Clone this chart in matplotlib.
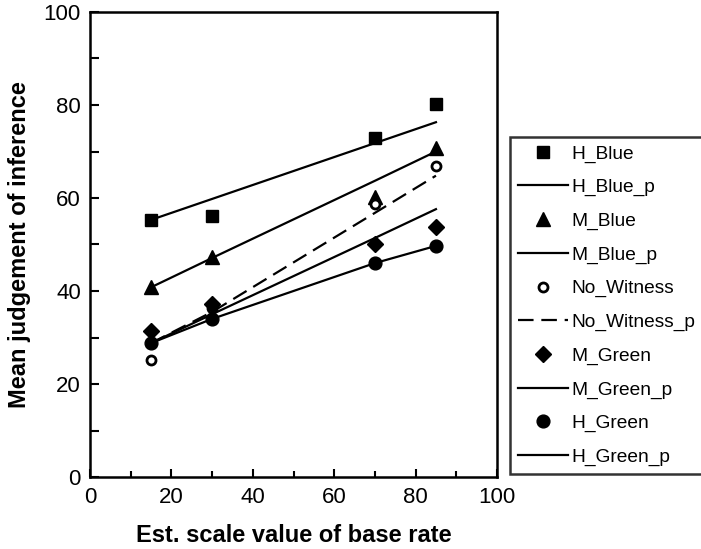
import matplotlib
matplotlib.use("Agg")
import matplotlib.pyplot as plt
from matplotlib.ticker import MultipleLocator

plt.rcParams['font.family'] = ['Liberation Sans', 'DejaVu Sans']

# base rate scale values
x = [15, 30, 70, 85]

# observed means
h_blue = [55.3, 56.1, 72.9, 80.2]
m_blue = [40.8, 47.3, 60.2, 70.7]
no_witness = [25.2, 36.3, 58.7, 66.9]
m_green = [31.4, 37.3, 50.0, 53.8]
h_green = [28.8, 34.0, 46.0, 49.7]

# predicted values
h_blue_p = [55.3, 59.8, 71.8, 76.3]
m_blue_p = [40.8, 47.1, 63.7, 70.0]
no_witness_p = [28.8, 35.5, 56.8, 64.8]
m_green_p = [28.8, 35.0, 51.4, 57.6]
h_green_p = [28.8, 34.0, 46.0, 49.7]

fig = plt.figure(figsize=(7.01, 5.49), dpi=100)
ax = fig.add_axes([90 / 701, 1 - 477 / 549, 407 / 701, 465 / 549])

lw = 1.6
dash = (0, (7, 3.5))
handles = []
handles += ax.plot(x, h_blue, ls='none', marker='s', ms=9, color='black', label='H_Blue')
handles += ax.plot(x, h_blue_p, ls='-', lw=lw, color='black', label='H_Blue_p')
handles += ax.plot(x, m_blue, ls='none', marker='^', ms=9.5, color='black', label='M_Blue')
handles += ax.plot(x, m_blue_p, ls='-', lw=lw, color='black', label='M_Blue_p')
handles += ax.plot(x, no_witness, ls='none', marker='o', ms=6.5, mfc='white', mec='black',
                   mew=2, label='No_Witness')
handles += ax.plot(x, no_witness_p, ls=dash, lw=lw, color='black', label='No_Witness_p')
handles += ax.plot(x, m_green, ls='none', marker='D', ms=8, color='black', label='M_Green')
handles += ax.plot(x, m_green_p, ls='-', lw=lw, color='black', label='M_Green_p')
handles += ax.plot(x, h_green, ls='none', marker='o', ms=9.2, color='black', label='H_Green')
handles += ax.plot(x, h_green_p, ls='-', lw=lw, color='black', label='H_Green_p')

ax.set_xlim(0, 100)
ax.set_ylim(0, 100)
ax.xaxis.set_major_locator(MultipleLocator(20))
ax.xaxis.set_minor_locator(MultipleLocator(10))
ax.yaxis.set_major_locator(MultipleLocator(20))
ax.yaxis.set_minor_locator(MultipleLocator(10))
ax.tick_params(axis='both', which='both', direction='in', width=1.5, labelsize=16)
ax.tick_params(axis='x', which='major', length=6, pad=7)
ax.tick_params(axis='x', which='minor', length=4.5)
ax.tick_params(axis='y', which='both', length=6.5, pad=6.5)
for s in ax.spines.values():
    s.set_linewidth(1.8)

ax.set_xlabel('Est. scale value of base rate', fontsize=17, fontweight='bold', labelpad=12)
ax.set_ylabel('Mean judgement of inference', fontsize=17, fontweight='bold', labelpad=9)

leg = fig.legend(handles=handles, loc='upper left', bbox_to_anchor=(510 / 701, 1 - 137 / 549),
                 fontsize=13.8, frameon=True, fancybox=False, edgecolor='black',
                 handlelength=2.6, handletextpad=0.2, labelspacing=0.84,
                 borderpad=0.42, borderaxespad=0)
leg.get_frame().set_linewidth(1.8)

fig.savefig('out.png', dpi=100)
